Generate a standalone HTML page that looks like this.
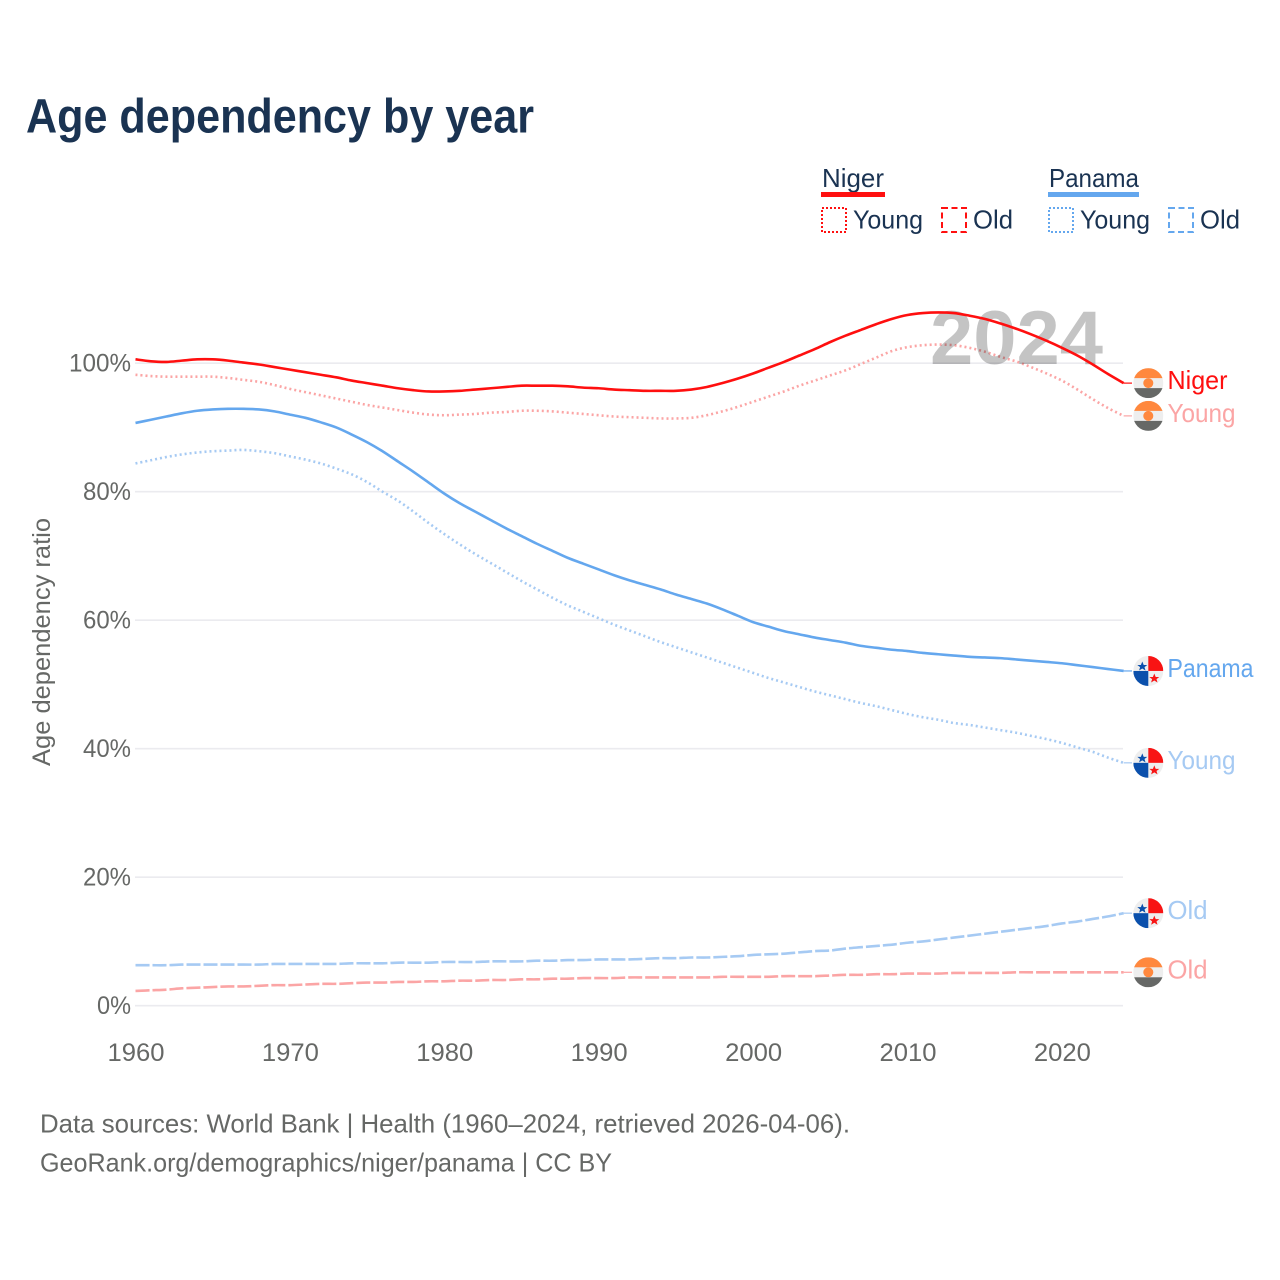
<!DOCTYPE html>
<html lang="en">
<head>
<meta charset="utf-8">
<title>Age dependency by year</title>
<style>
html,body{margin:0;padding:0;background:#fff;width:1280px;height:1280px;overflow:hidden}
svg{display:block}
text{font-family:"Liberation Sans",sans-serif}
</style>
</head>
<body>
<svg id="chart" xmlns="http://www.w3.org/2000/svg" width="1280" height="1280" viewBox="0 0 1280 1280">
  <defs>
    <clipPath id="flag-clip"><circle cx="0" cy="0" r="15"/></clipPath>
    <g id="flag-niger">
      <g clip-path="url(#flag-clip)">
        <rect x="-15" y="-15" width="30" height="30" fill="#eeeeee"/>
        <rect x="-15" y="-15" width="30" height="10" fill="#ff883e"/>
        <rect x="-15" y="5" width="30" height="10" fill="#666866"/>
        <circle cx="0" cy="0" r="5" fill="#ff883e"/>
      </g>
    </g>
    <g id="flag-panama">
      <g clip-path="url(#flag-clip)">
        <rect x="-15" y="-15" width="30" height="30" fill="#eeeeee"/>
        <rect x="0" y="-15" width="15" height="15" fill="#f81414"/>
        <rect x="-15" y="0" width="15" height="15" fill="#0b50ac"/>
        <polygon points="-6,-9.5 -4.6,-6 -1,-6 -3.8,-3.8 -2.8,-0.4 -6,-2.4 -9.2,-0.4 -8.2,-3.8 -11,-6 -7.4,-6" fill="#0b50ac"/>
        <polygon points="6,2.5 7.4,6 11,6 8.2,8.2 9.2,11.6 6,9.6 2.8,11.6 3.8,8.2 1,6 4.6,6" fill="#f81414"/>
      </g>
    </g>
  </defs>

  <rect width="1280" height="1280" fill="#ffffff"/>
  <text x="26" y="132.5" font-size="48" font-weight="700" fill="#1a3352" textLength="508" lengthAdjust="spacingAndGlyphs">Age dependency by year</text>

  <g font-size="26" fill="#1a3352">
    <text x="822" y="187" textLength="62" lengthAdjust="spacingAndGlyphs">Niger</text>
    <rect x="821" y="192" width="64" height="5" fill="#ff1010"/>
    <rect x="822" y="208" width="24" height="24" fill="none" stroke="#ff1010" stroke-width="2" stroke-dasharray="2 2"/>
    <text x="853" y="228.5" textLength="70" lengthAdjust="spacingAndGlyphs">Young</text>
    <rect x="942" y="208" width="24" height="24" fill="none" stroke="#ff1010" stroke-width="2" stroke-dasharray="6 3.5"/>
    <text x="973" y="228.5" textLength="40" lengthAdjust="spacingAndGlyphs">Old</text>
    <text x="1049" y="187" textLength="90" lengthAdjust="spacingAndGlyphs">Panama</text>
    <rect x="1048" y="192" width="91" height="5" fill="#64a7ee"/>
    <rect x="1049" y="208" width="24" height="24" fill="none" stroke="#64a7ee" stroke-width="2" stroke-dasharray="2 2"/>
    <text x="1080" y="228.5" textLength="70" lengthAdjust="spacingAndGlyphs">Young</text>
    <rect x="1169" y="208" width="24" height="24" fill="none" stroke="#64a7ee" stroke-width="2" stroke-dasharray="6 3.5"/>
    <text x="1200" y="228.5" textLength="40" lengthAdjust="spacingAndGlyphs">Old</text>
  </g>

  <g id="grid"></g>
  <g id="y-ticks"></g>
  <g id="x-ticks"></g>
  <text transform="translate(50,642) rotate(-90)" text-anchor="middle" font-size="25" fill="#666866" textLength="248" lengthAdjust="spacingAndGlyphs">Age dependency ratio</text>

  <g id="light-series"></g>
  <text x="930" y="364" font-size="76" font-weight="700" fill="#000000" fill-opacity="0.23" textLength="173" lengthAdjust="spacingAndGlyphs">2024</text>
  <g id="main-series"></g>
  <g id="end-labels"></g>

  <g font-size="26" fill="#666866">
    <text x="40" y="1132.5" textLength="810" lengthAdjust="spacingAndGlyphs">Data sources: World Bank | Health (1960–2024, retrieved 2026-04-06).</text>
    <text x="40" y="1171.5" textLength="572" lengthAdjust="spacingAndGlyphs">GeoRank.org/demographics/niger/panama | CC BY</text>
  </g>
</svg>

<script>
const startYear = 1960;
const xTickYears = [1960, 1970, 1980, 1990, 2000, 2010, 2020];
const yTickValues = [0, 20, 40, 60, 80, 100];
const nigerTotal = [100.6,100.3,100.2,100.4,100.6,100.6,100.4,100.1,99.8,99.4,99.0,98.6,98.2,97.8,97.3,96.9,96.5,96.1,95.8,95.6,95.6,95.7,95.9,96.1,96.3,96.5,96.5,96.5,96.4,96.2,96.1,95.9,95.8,95.7,95.7,95.7,95.9,96.3,96.9,97.6,98.4,99.3,100.2,101.2,102.2,103.3,104.3,105.2,106.1,106.9,107.5,107.8,107.9,107.8,107.4,106.9,106.2,105.4,104.5,103.5,102.4,101.2,99.8,98.3,96.9];
const nigerYoung = [98.2,98.0,97.9,97.9,97.9,97.9,97.7,97.4,97.1,96.6,96.0,95.5,95.0,94.5,94.0,93.5,93.1,92.7,92.3,92.0,91.9,92.0,92.1,92.3,92.4,92.6,92.6,92.5,92.3,92.1,91.9,91.7,91.6,91.5,91.4,91.4,91.5,91.9,92.5,93.2,94.0,94.8,95.6,96.5,97.3,98.1,98.9,99.9,100.9,101.9,102.5,102.8,102.9,102.8,102.4,101.8,101.0,100.3,99.4,98.4,97.3,95.9,94.4,93.0,91.8];
const nigerOld = [2.3,2.4,2.5,2.7,2.8,2.9,3.0,3.0,3.1,3.2,3.2,3.3,3.4,3.4,3.5,3.6,3.6,3.7,3.7,3.8,3.8,3.9,3.9,4.0,4.0,4.1,4.1,4.2,4.2,4.3,4.3,4.3,4.4,4.4,4.4,4.4,4.4,4.4,4.5,4.5,4.5,4.5,4.6,4.6,4.6,4.7,4.8,4.8,4.9,4.9,5.0,5.0,5.0,5.1,5.1,5.1,5.1,5.2,5.2,5.2,5.2,5.2,5.2,5.2,5.2];
const panamaTotal = [90.7,91.2,91.7,92.2,92.6,92.8,92.9,92.9,92.8,92.5,92.0,91.5,90.8,90.0,88.9,87.7,86.3,84.7,83.1,81.4,79.7,78.2,76.9,75.6,74.3,73.1,71.9,70.8,69.7,68.8,67.9,67.0,66.2,65.5,64.8,64.0,63.3,62.6,61.7,60.7,59.7,59.0,58.3,57.8,57.3,56.9,56.5,56.0,55.7,55.4,55.2,54.9,54.7,54.5,54.3,54.2,54.1,53.9,53.7,53.5,53.3,53.0,52.7,52.4,52.1];
const panamaYoung = [84.4,84.9,85.4,85.8,86.1,86.3,86.4,86.5,86.3,86.0,85.5,85.0,84.4,83.6,82.7,81.5,80.0,78.6,76.9,75.1,73.4,71.8,70.3,68.9,67.5,66.1,64.8,63.5,62.3,61.3,60.3,59.3,58.4,57.5,56.6,55.8,55.0,54.2,53.4,52.6,51.8,51.0,50.3,49.6,48.9,48.3,47.7,47.1,46.6,46.0,45.4,44.9,44.5,44.0,43.7,43.3,42.9,42.5,42.0,41.5,40.9,40.2,39.5,38.6,37.8];
const panamaOld = [6.3,6.3,6.3,6.4,6.4,6.4,6.4,6.4,6.4,6.5,6.5,6.5,6.5,6.5,6.6,6.6,6.6,6.7,6.7,6.7,6.8,6.8,6.8,6.9,6.9,6.9,7.0,7.0,7.1,7.1,7.2,7.2,7.2,7.3,7.4,7.4,7.5,7.5,7.6,7.7,7.9,8.0,8.1,8.3,8.5,8.6,8.9,9.1,9.3,9.5,9.8,10.0,10.3,10.6,10.9,11.2,11.5,11.8,12.1,12.4,12.8,13.1,13.5,13.9,14.4];
const seriesLabelNames = ["Niger", "Young", "Panama", "Young", "Old", "Old"];

const NS = 'http://www.w3.org/2000/svg';
const xScale = year => 135.5 + (year - 1960) * 15.44;
const yScale = value => 1005.7 - value * 6.425;

function make(tag, attrs, parent) {
  const node = document.createElementNS(NS, tag);
  for (const key in attrs) node.setAttribute(key, attrs[key]);
  parent.appendChild(node);
  return node;
}

function smoothPath(values) {
  const pts = values.map((value, i) => [xScale(startYear + i), yScale(value)]);
  let d = 'M' + pts[0][0].toFixed(2) + ' ' + pts[0][1].toFixed(2);
  for (let i = 0; i < pts.length - 1; i++) {
    const p0 = pts[Math.max(i - 1, 0)];
    const p1 = pts[i];
    const p2 = pts[i + 1];
    const p3 = pts[Math.min(i + 2, pts.length - 1)];
    const c1x = p1[0] + (p2[0] - p0[0]) / 6;
    const c1y = p1[1] + (p2[1] - p0[1]) / 6;
    const c2x = p2[0] - (p3[0] - p1[0]) / 6;
    const c2y = p2[1] - (p3[1] - p1[1]) / 6;
    d += 'C' + c1x.toFixed(2) + ' ' + c1y.toFixed(2) + ' ' + c2x.toFixed(2) + ' ' + c2y.toFixed(2) + ' ' + p2[0].toFixed(2) + ' ' + p2[1].toFixed(2);
  }
  return d;
}

const grid = document.getElementById('grid');
const yTicks = document.getElementById('y-ticks');
yTickValues.forEach(value => {
  const line = make('line', {x1: 135, x2: 1123, y1: yScale(value), y2: yScale(value), stroke: '#ebebef', 'stroke-width': 1.6}, grid);
  
  
  const label = value + '%';
  const text = make('text', {x: 131, y: yScale(value) + 8.5, 'text-anchor': 'end', 'font-size': 25, fill: '#666866', textLength: (label.length - 1) * 14 + 20, lengthAdjust: 'spacingAndGlyphs'}, yTicks);
  
  
  text.textContent = label;
});

const xTicks = document.getElementById('x-ticks');
xTickYears.forEach(year => {
  const text = make('text', {x: xScale(year) + 0.5, y: 1061, 'text-anchor': 'middle', 'font-size': 25, fill: '#666866', textLength: 57, lengthAdjust: 'spacingAndGlyphs'}, xTicks);
  
  
  text.textContent = year;
});

function drawSeries(values, color, dash, width, parent, name, flag, labelIndex, labelWidth) {
  const attrs = {d: smoothPath(values), fill: 'none', stroke: color, 'stroke-width': width, 'stroke-linejoin': 'round'};
  if (dash) attrs['stroke-dasharray'] = dash;
  const line = make('path', attrs, parent);
  
  

  const endY = yScale(values[values.length - 1]);
  const endX = xScale(startYear + values.length - 1);
  const labels = document.getElementById('end-labels');
  const connector = make('line', {x1: endX, x2: 1132, y1: endY, y2: endY, stroke: color, 'stroke-width': 1.2}, labels);
  
  
  const flagUse = make('use', {href: '#flag-' + flag, transform: 'translate(1148.3,' + endY + ')'}, labels);
  
  
  const text = make('text', {x: 1167.5, y: endY + 6, 'font-size': 26, fill: color, textLength: labelWidth, lengthAdjust: 'spacingAndGlyphs'}, labels);
  
  
  text.textContent = seriesLabelNames[labelIndex];
}

const lightGroup = document.getElementById('light-series');
const mainGroup = document.getElementById('main-series');
drawSeries(nigerYoung, '#fba5a5', '2 3', 2.6, lightGroup, 'niger-young', 'niger', 1, 68);
drawSeries(panamaYoung, '#a6caf3', '2 3', 2.6, lightGroup, 'panama-young', 'panama', 3, 68);
drawSeries(panamaOld, '#a6caf3', '14 3', 2.6, lightGroup, 'panama-old', 'panama', 4, 40);
drawSeries(nigerOld, '#fba5a5', '14 3', 2.6, lightGroup, 'niger-old', 'niger', 5, 40);
drawSeries(panamaTotal, '#64a7ee', null, 2.6, mainGroup, 'panama-total', 'panama', 2, 86);
drawSeries(nigerTotal, '#ff0f0f', null, 2.6, mainGroup, 'niger-total', 'niger', 0, 60);
</script>
</body>
</html>
